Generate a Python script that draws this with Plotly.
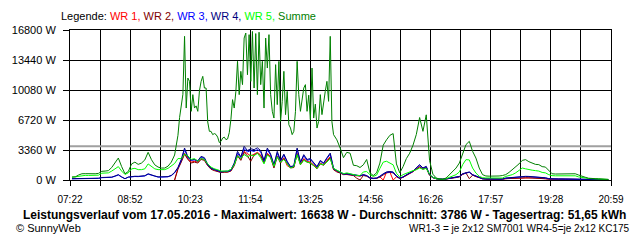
import plotly.graph_objects as go

# ---------------- data ----------------
T_START, T_END = 442, 1259          # 07:22 .. 20:59 (minutes after midnight)
x_labels = ["07:22", "08:52", "10:23", "11:54", "13:25", "14:56", "16:26", "17:57", "19:28", "20:59"]
y_ticks = [0, 3360, 6720, 10080, 13440, 16800]
average_w = 3786

# 5-minute sampling grid 07:25 .. 20:55 (163 samples)
times = list(range(445, 1256, 5))
# Summe has a finer (2.5 min) resolution around noon
summe_times = list(range(445, 605, 5)) + [605 + 2.5 * k for k in range(95)] + list(range(845, 1256, 5))

summe = [
    340, 350, 560, 700, 710, 690, 720, 700, 740, 970, 1000, 1050, 1400, 1900, 2460, 1500,
    700, 950, 1800, 2000, 1750, 1900, 2250, 3100, 2280, 1700, 1450, 1340, 1340, 1550, 2000, 2800,
    # 10:05 .. 14:00 every 2.5 min
    5000, 7000, 8500, 9600, 16090, 8060, 11420, 11050, 7690, 9560,
    8060, 8300, 7690, 10000, 11050, 11610, 10300, 10300, 6500, 5450,
    5450, 5080, 5200, 5100, 4800, 4200, 4330, 4700, 4800, 4520,
    4600, 5300, 6800, 9000, 8060, 9930, 13290, 9560, 12170, 10680,
    15900, 16460, 11790, 16280, 11050, 16638, 10300, 16400, 9560, 16550,
    10680, 13290, 8060, 15900, 12540, 16280, 9560, 7690, 6940, 12920,
    8440, 13290, 6570, 8810, 12170, 7320, 9930, 6190, 5820, 5080,
    5450, 7690, 13290, 9560, 7690, 8810, 10300, 10680, 7690, 9500,
    6760, 12540, 6940, 8500, 5820, 6570, 9560, 7320, 8810, 9930,
    11050, 8810, 16090, 6570, 5080,
    # 14:05 .. 20:55
    4500, 3580, 2500, 3100, 3000, 1650, 1600, 1400, 1700, 2300,
    800, 500, 800, 1900, 3900, 4500, 5000, 5200, 1800, 800,
    1500, 2400, 3000, 3900, 5100, 7000, 5450, 7300, 2200, 650,
    230, 100, 80, 220, 600, 970, 1340, 1900, 3020, 3960,
    4330, 3210, 2460, 1340, 600, 450, 430, 420, 420, 450,
    500, 600, 850, 1160, 1450, 1800, 2200, 2280, 2050, 1900,
    1750, 1720, 1500, 1450, 1100, 700, 670, 670, 670, 700,
    710, 710, 700, 560, 400, 310, 200, 150, 150, 140,
    110, 90, 70,
]

wr5 = [
    300, 350, 480, 520, 520, 510, 530, 520, 540, 760, 780, 800, 1000, 1300, 1500, 1000,
    620, 800, 1250, 1300, 1160, 1160, 1250, 1800, 1500, 1250, 1160, 1160, 1160, 1300, 1550, 1850,
    2400, 2400, 2900, 2700, 2300, 2400, 2100, 2400, 2300, 1800,
    1450, 1250, 1150, 1000, 1000, 1000, 1200, 1700, 2700, 2400,
    2850, 2600, 2800, 2700, 3000, 2500, 1800, 2800, 2500, 1530,
    2600, 2000, 2300, 1800, 1340, 1500, 2840, 1720, 2200, 2000,
    1900, 1600, 1300, 1800, 1700, 2000, 2400, 1300,
    1100, 900, 700, 800, 700, 620, 520, 500, 900, 950,
    600, 400, 550, 1300, 2000, 2100, 1900, 1700, 750, 350,
    600, 750, 950, 1050, 1150, 1340, 1200, 1300, 650, 300,
    150, 80, 70, 150, 300, 450, 600, 900, 1720, 2280,
    2250, 1340, 780, 410, 260, 230, 220, 220, 220, 220,
    220, 400, 500, 600, 800, 1050, 1340, 1250, 1150, 1100,
    1050, 1000, 850, 800, 600, 490, 470, 460, 460, 470,
    480, 480, 470, 350, 260, 230, 170, 150, 140, 120,
    100, 80, 60,
]

wr4 = [
    150, 150, 150, 150, 150, 150, 160, 170, 200, 280, 300, 300, 320, 450, 600, 350,
    150, 330, 410, 420, 410, 420, 480, 700, 550, 450, 350, 340, 340, 380, 520, 850,
    1400, 2300, 3580, 2600, 2250, 2300, 2150, 2650, 2500, 1750,
    1350, 1200, 1100, 950, 980, 1000, 1150, 1900, 3210, 2600,
    3770, 3300, 3500, 3400, 3600, 3300, 2200, 3580, 2900, 1700,
    3210, 2200, 2900, 2100, 1500, 1600, 3580, 2000, 2840, 2300,
    2400, 2000, 1500, 2200, 1900, 2500, 3020, 1300,
    1050, 900, 700, 720, 650, 560, 500, 480, 600, 500,
    250, 180, 220, 400, 700, 900, 950, 900, 450, 220,
    350, 600, 800, 1000, 1400, 1720, 1350, 1530, 600, 300,
    150, 100, 100, 130, 200, 250, 300, 400, 710, 850,
    900, 600, 420, 300, 150, 130, 110, 110, 110, 110,
    110, 220, 260, 300, 330, 380, 410, 410, 400, 380,
    370, 360, 340, 250, 150, 120, 120, 120, 120, 120,
    120, 120, 120, 100, 80, 80, 80, 80, 60, 50,
    50, 50, 40,
]

wr3 = [
    130, 130, 130, 130, 130, 140, 150, 160, 180, 260, 280, 280, 300, 420, 560, 330,
    140, 310, 380, 390, 380, 390, 450, 650, 520, 420, 330, 320, 320, 360, 490, 800,
    1350, 2200, 3400, 2500, 2200, 2250, 2100, 2550, 2400, 1700,
    1300, 1150, 1050, 900, 950, 950, 1100, 1800, 3000, 2500,
    3500, 3150, 3300, 3200, 3400, 3150, 2100, 3400, 2800, 1650,
    3000, 2100, 2800, 2000, 1450, 1550, 3400, 1950, 2700, 2200,
    2300, 1900, 1450, 2100, 1850, 2400, 2900, 1250,
    1000, 850, 650, 700, 620, 540, 480, 460, 580, 480,
    230, 170, 200, 380, 650, 850, 900, 850, 420, 200,
    330, 570, 770, 950, 1350, 1650, 1300, 1480, 580, 280,
    140, 90, 90, 120, 190, 240, 290, 380, 680, 820,
    870, 580, 400, 290, 140, 120, 100, 100, 100, 100,
    100, 200, 240, 280, 310, 360, 390, 390, 380, 360,
    350, 340, 320, 230, 140, 110, 110, 110, 110, 110,
    110, 110, 110, 90, 70, 70, 70, 70, 50, 40,
    40, 40, 30,
]

wr1 = [None] * 31 + [0] + [
    1300, 2100, 3000, 2400, 2000, 2100, 2000, 2400, 2250, 1650,
    1250, 1100, 1000, 870, 900, 900, 1050, 1700, 2800, 2300,
    3200, 2900, 2700, 2900, 3100, 2800, 2000, 3000, 2600, 1500,
    2700, 2000, 2500, 1600, 1400, 1450, 3000, 1800, 2400, 2100,
    2000, 1700, 1350, 1900, 1700, 2200, 2600, 1200,
    950, 800, 620, 650, 600, 520, 450, 430, 550, 450,
    220, 160, 190, 350, 0, 850, 900, 0, 350, 180,
    310, 540, 740, 920, 1250, 1500, 1250, 1400, 550, 260,
    130, 80, 80, 110, 180, 230, 280, 370, 650, 800,
    850, 560, 380, 270, 130, 100, 80, 80, 80, 80,
    80, 150, 180, 200, 220, 240, 260, 260, 250, 240,
    230, 220, 210, 150, 100, 80, 80, 80, 80, 80,
    80, 80, 80, 60, 50, 50, 50, 50, 40, 30,
    30, 30, 20,
]

wr2 = [None] * 31 + [0] + [
    1200, 2000, 2900, 2300, 1900, 2000, 1900, 2300, 2200, 1600,
    1200, 1050, 950, 840, 870, 880, 1000, 1600, 2700, 2200,
    3100, 2700, 2100, 2800, 3000, 2700, 1900, 2900, 2500, 1340,
    2600, 1900, 2400, 1800, 1350, 1400, 2900, 1700, 2300, 2000,
    1900, 1600, 1250, 1800, 1650, 2100, 2500, 1150,
    900, 780, 600, 620, 580, 500, 200, 0, 500, 430,
    200, 150, 180, 330, 580, 800, 850, 800, 400, 170,
    300, 520, 720, 900, 1200, 1450, 1200, 1350, 530, 250,
    120, 70, 70, 100, 170, 220, 270, 350, 620, 780,
    150, 540, 370, 260, 120, 90, 70, 70, 70, 70,
    70, 140, 170, 190, 210, 230, 250, 250, 240, 230,
    220, 210, 200, 140, 90, 70, 70, 70, 70, 70,
    70, 70, 70, 50, 40, 40, 40, 40, 30, 20,
    20, 20, 10,
]

series = [
    ("WR 1", wr1, "#ff0000"),
    ("WR 2", wr2, "#800000"),
    ("WR 3", wr3, "#0000ff"),
    ("WR 4", wr4, "#000080"),
    ("WR 5", wr5, "#00ff00"),
]
summe_color = "#008000"

# ---------------- figure ----------------
fig = go.Figure()

fig.add_trace(go.Scatter(x=[T_START, T_END], y=[average_w, average_w], mode="lines",
                         line=dict(color="#a0a0a0", width=2), hoverinfo="skip"))

for name, vals, col in series:
    fig.add_trace(go.Scatter(x=times, y=vals, mode="lines", name=name,
                             line=dict(color=col, width=1), connectgaps=False))

fig.add_trace(go.Scatter(x=summe_times, y=summe, mode="lines", name="Summe",
                         line=dict(color=summe_color, width=1)))

n_div = 18
tickvals = [T_START + j * (T_END - T_START) / n_div for j in range(n_div + 1)]
ticktext = [x_labels[j // 2] if j % 2 == 0 else "" for j in range(n_div + 1)]

base = "Liberation Sans, Arial, sans-serif"

fig.update_layout(
    width=640, height=240,
    margin=dict(l=61, r=29, t=30, b=60),
    paper_bgcolor="white", plot_bgcolor="white",
    showlegend=False,
    font=dict(family=base, size=11, color="black"),
    xaxis=dict(
        range=[T_START, T_END], tickmode="array", tickvals=tickvals, ticktext=ticktext,
        showgrid=True, gridcolor="black", gridwidth=1,
        showline=True, linecolor="black", linewidth=1, mirror=True,
        ticks="outside", ticklen=5, tickcolor="black", tickwidth=1,
        zeroline=False, tickfont=dict(family=base, size=10, color="black"),
        ticklabelstandoff=5,
    ),
    yaxis=dict(
        range=[0, 16800], tickmode="array", tickvals=y_ticks,
        ticktext=[f"{v} W" for v in y_ticks],
        showgrid=True, gridcolor="black", gridwidth=1,
        showline=True, linecolor="black", linewidth=1, mirror=True,
        ticks="outside", ticklen=6, tickcolor="black", tickwidth=1,
        zeroline=False, tickfont=dict(size=11, color="black"),
        ticklabelstandoff=5,
    ),
)

legend_html = ("Legende: "
               + " ".join(f'<span style="color:{c}">{n},</span>' for n, _, c in series)
               + f' <span style="color:{summe_color}">Summe</span>')

fig.add_annotation(text=legend_html, xref="paper", yref="paper",
                   x=(50 - 61) / 550, y=(180 - 16) / 150, xanchor="left", yanchor="middle",
                   showarrow=False, font=dict(size=11, color="black"))

fig.add_annotation(
    text="<b>Leistungsverlauf vom 17.05.2016 - Maximalwert: 16638 W - Durchschnitt: 3786 W - Tagesertrag: 51,65 kWh</b>",
    xref="paper", yref="paper", x=(320 - 61) / 550, y=(180 - 215) / 150,
    xanchor="center", yanchor="middle", showarrow=False, font=dict(size=12, color="black"))

fig.add_annotation(text="© SunnyWeb", xref="paper", yref="paper",
                   x=(4 - 61) / 550, y=(180 - 228) / 150, xanchor="left", yanchor="middle",
                   showarrow=False, font=dict(size=11, color="black"))

fig.add_annotation(text="WR1-3 = je 2x12 SM7001 WR4-5=je 2x12 KC175", xref="paper", yref="paper",
                   x=(632 - 61) / 550, y=(180 - 228) / 150, xanchor="right", yanchor="middle",
                   showarrow=False, font=dict(size=10, color="black"))

fig.write_html("out.html", config={"displayModeBar": False})
